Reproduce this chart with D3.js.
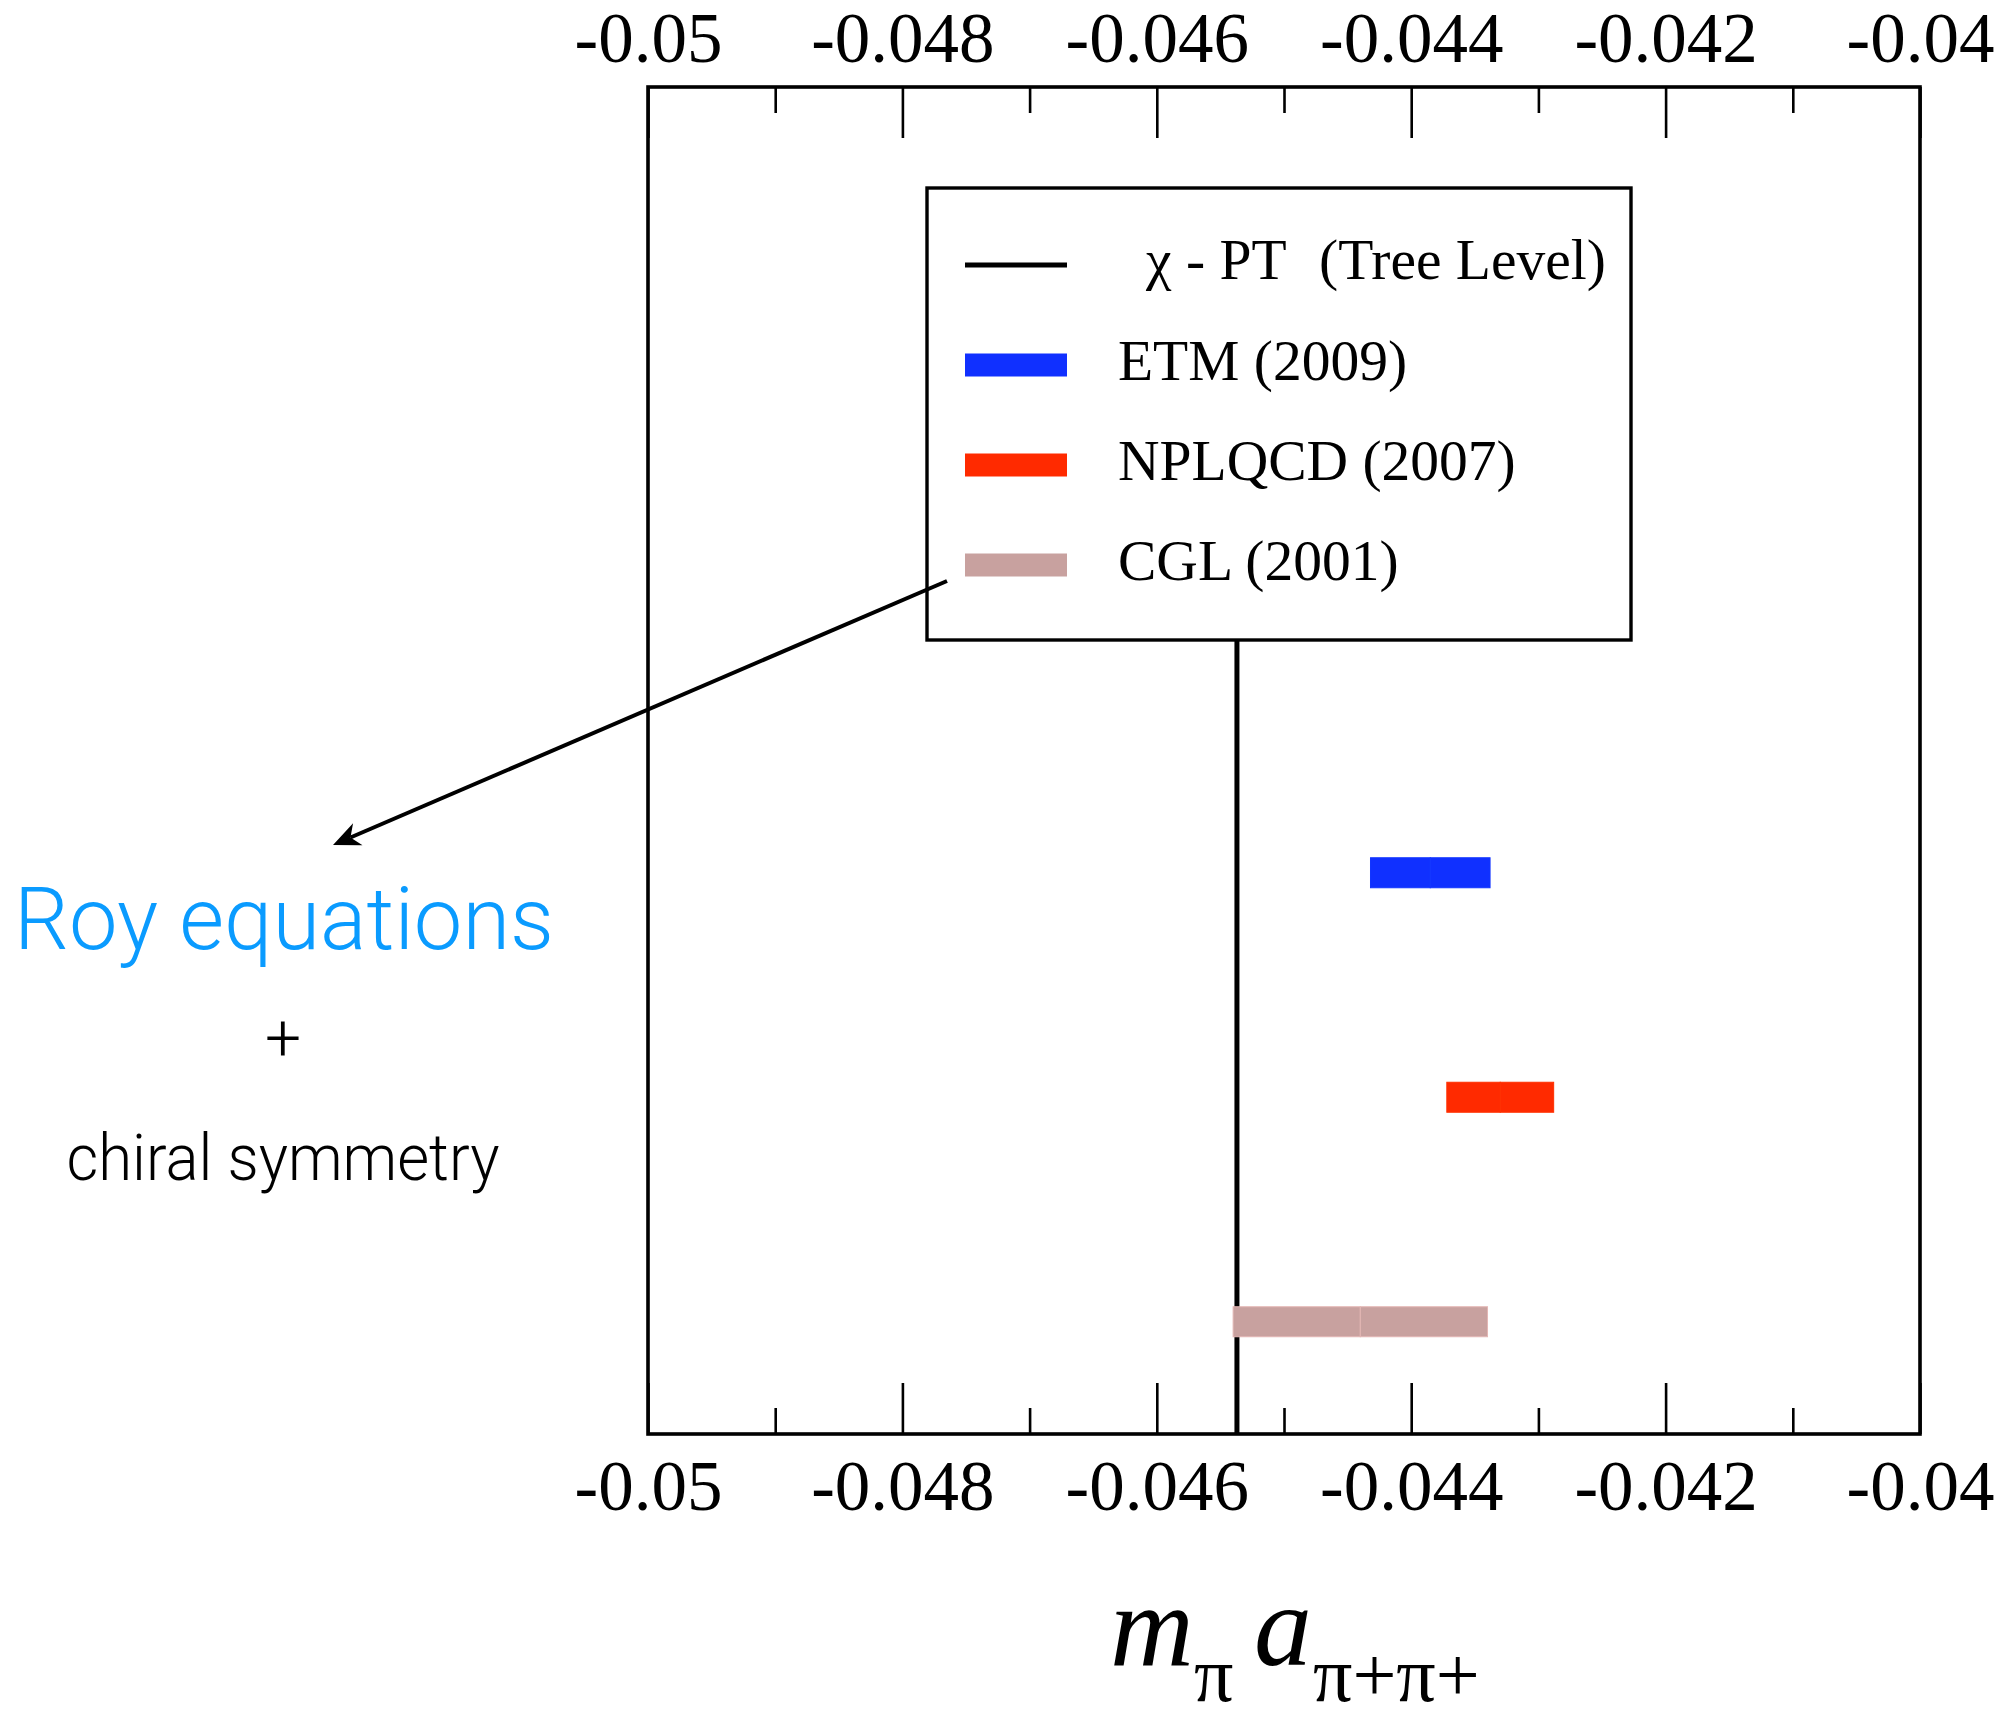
<!DOCTYPE html>
<html>
<head>
<meta charset="utf-8">
<script src="https://cdn.jsdelivr.net/npm/d3@7"></script>
<style>
  html, body { margin: 0; padding: 0; background: #fff; }
  svg { display: block; }
</style>
</head>
<body>
<svg id="chart" width="2004" height="1718"></svg>
<script>
// Pi+ pi+ scattering length m_pi a (I=2): lattice and dispersive determinations
const series = ["ETM (2009)", "NPLQCD (2007)", "CGL (2001)"];
const centralValues = [-0.04385, -0.04330, -0.04440];
const halfErrors = [0.00047, 0.00042, 0.00100];
const rowPositions = [3, 2, 1];
const seriesColors = ["#1030ff", "#ff2a00", "#c8a19f"];

// Tree-level chiral perturbation theory value, drawn as a vertical line
const treeLevelLabel = ["\u03c7 - PT", "(Tree Level)"];
const treeLevelValue = -0.04537;
const treeLevelSpan = [0.5, 4.037];

// Axis ticks
const majorTicks = [-0.05, -0.048, -0.046, -0.044, -0.042, -0.04];
const majorTickLabels = ["-0.05", "-0.048", "-0.046", "-0.044", "-0.042", "-0.04"];
const minorTicks = [-0.049, -0.047, -0.045, -0.043, -0.041];

const svg = d3.select("#chart");
const plotLeft = 648, plotRight = 1920, plotTop = 87, plotBottom = 1434;

const x = d3.scaleLinear().domain([-0.05, -0.04]).range([plotLeft, plotRight]);
const y = d3.scaleLinear().domain([0.5, 6.5]).range([plotBottom, plotTop]);

const serif = "'Liberation Serif', 'Times New Roman', serif";
const sans = "Roboto, 'Liberation Sans', sans-serif";

// ---- axes (top and bottom share the same ticks) ----
function styleAxis(g) {
  g.select(".domain").remove();
  g.selectAll(".tick line").attr("stroke", "#000").attr("stroke-width", 2.6);
  g.selectAll(".tick text")
    .attr("font-family", serif)
    .attr("font-size", 71)
    .attr("fill", "#000");
}
const labelOf = v => majorTickLabels[majorTicks.indexOf(v)];

svg.append("g")
  .attr("transform", `translate(0,${plotTop})`)
  .call(d3.axisTop(x).tickValues(majorTicks).tickFormat(labelOf).tickSize(-51).tickPadding(25))
  .call(styleAxis);
svg.append("g")
  .attr("transform", `translate(0,${plotTop})`)
  .call(d3.axisTop(x).tickValues(minorTicks).tickFormat("").tickSize(-26))
  .call(styleAxis);

const bottomAxis = svg.append("g")
  .attr("transform", `translate(0,${plotBottom})`)
  .call(d3.axisBottom(x).tickValues(majorTicks).tickFormat(labelOf).tickSize(-51))
  .call(styleAxis);
bottomAxis.selectAll(".tick text").attr("y", 76).attr("dy", null);
svg.append("g")
  .attr("transform", `translate(0,${plotBottom})`)
  .call(d3.axisBottom(x).tickValues(minorTicks).tickFormat("").tickSize(-26))
  .call(styleAxis);

// ---- tree-level line ----
svg.append("line")
  .attr("x1", x(treeLevelValue)).attr("x2", x(treeLevelValue))
  .attr("y1", y(treeLevelSpan[0])).attr("y2", y(treeLevelSpan[1]))
  .attr("stroke", "#000").attr("stroke-width", 5);

// ---- error bands, drawn as two halves around the central value ----
const barH = 30;
const bands = svg.append("g");
series.forEach((name, i) => {
  const c = centralValues[i], e = halfErrors[i];
  [[c - e, c], [c, c + e]].forEach(([a, b]) => {
    bands.append("rect")
      .attr("x", x(a)).attr("width", x(b) - x(a))
      .attr("y", y(rowPositions[i]) - barH / 2).attr("height", barH)
      .attr("fill", seriesColors[i])
      .attr("stroke", d3.color(seriesColors[i]).brighter(0.35))
      .attr("stroke-width", 1);
  });
});

// ---- frame ----
svg.append("rect")
  .attr("x", plotLeft).attr("y", plotTop)
  .attr("width", plotRight - plotLeft).attr("height", plotBottom - plotTop)
  .attr("fill", "none").attr("stroke", "#000").attr("stroke-width", 3.6);

// ---- legend ----
const legend = svg.append("g");
legend.append("rect")
  .attr("x", 927).attr("y", 188).attr("width", 704).attr("height", 452)
  .attr("fill", "#fff").attr("stroke", "#000").attr("stroke-width", 3.4);
legend.append("line")
  .attr("x1", 965).attr("x2", 1067).attr("y1", 265).attr("y2", 265)
  .attr("stroke", "#000").attr("stroke-width", 5);
const treeText = legend.append("text")
  .attr("y", 279)
  .attr("font-family", serif).attr("font-size", 57.5);
treeText.append("tspan").attr("x", 1146).text(treeLevelLabel[0]);
treeText.append("tspan").attr("x", 1319).text(treeLevelLabel[1]);
series.forEach((name, i) => {
  const cy = 365 + i * 100;
  legend.append("rect")
    .attr("x", 965).attr("y", cy - 11.5).attr("width", 102).attr("height", 23)
    .attr("fill", seriesColors[i]);
  legend.append("text")
    .attr("x", 1118).attr("y", cy + 15)
    .attr("font-family", serif).attr("font-size", 57.5)
    .text(name);
});

// ---- annotation arrow pointing at the CGL entry ----
const from = [947, 581], tip = [333, 845];
const len = Math.hypot(tip[0] - from[0], tip[1] - from[1]);
const ux = (tip[0] - from[0]) / len, uy = (tip[1] - from[1]) / len;
const px = -uy, py = ux;
const headLen = 27, headHalf = 12, notch = 19;
svg.append("line")
  .attr("x1", from[0]).attr("y1", from[1])
  .attr("x2", tip[0] - ux * notch).attr("y2", tip[1] - uy * notch)
  .attr("stroke", "#000").attr("stroke-width", 4);
svg.append("path")
  .attr("d", d3.line()([
    tip,
    [tip[0] - ux * headLen + px * headHalf, tip[1] - uy * headLen + py * headHalf],
    [tip[0] - ux * notch, tip[1] - uy * notch],
    [tip[0] - ux * headLen - px * headHalf, tip[1] - uy * headLen - py * headHalf]
  ]) + "Z")
  .attr("fill", "#000");

// ---- side note ----
const note = svg.append("g").attr("font-family", sans).attr("font-weight", 300).attr("text-anchor", "middle");
note.append("text")
  .attr("x", 284).attr("y", 949)
  .attr("font-size", 88).attr("fill", "#0a9bff")
  .attr("textLength", 540).attr("lengthAdjust", "spacingAndGlyphs")
  .text("Roy equations");
note.append("text")
  .attr("x", 283).attr("y", 1060)
  .attr("font-size", 64).attr("fill", "#000")
  .text("+");
note.append("text")
  .attr("x", 283).attr("y", 1180)
  .attr("font-size", 64).attr("fill", "#000")
  .attr("textLength", 433).attr("lengthAdjust", "spacingAndGlyphs")
  .text("chiral symmetry");

// ---- axis title: m_pi a_{pi+ pi+} ----
const title = svg.append("g").attr("font-family", serif).attr("fill", "#000");
title.append("text").attr("x", 1110).attr("y", 1665).attr("font-size", 116).attr("font-style", "italic").text("m");
title.append("text").attr("x", 1194).attr("y", 1701).attr("font-size", 78).text("\u03c0");
title.append("text").attr("x", 1254).attr("y", 1665).attr("font-size", 116).attr("font-style", "italic").text("a");
title.append("text").attr("x", 1313).attr("y", 1701).attr("font-size", 78).text("\u03c0+\u03c0+");
</script>
</body>
</html>
